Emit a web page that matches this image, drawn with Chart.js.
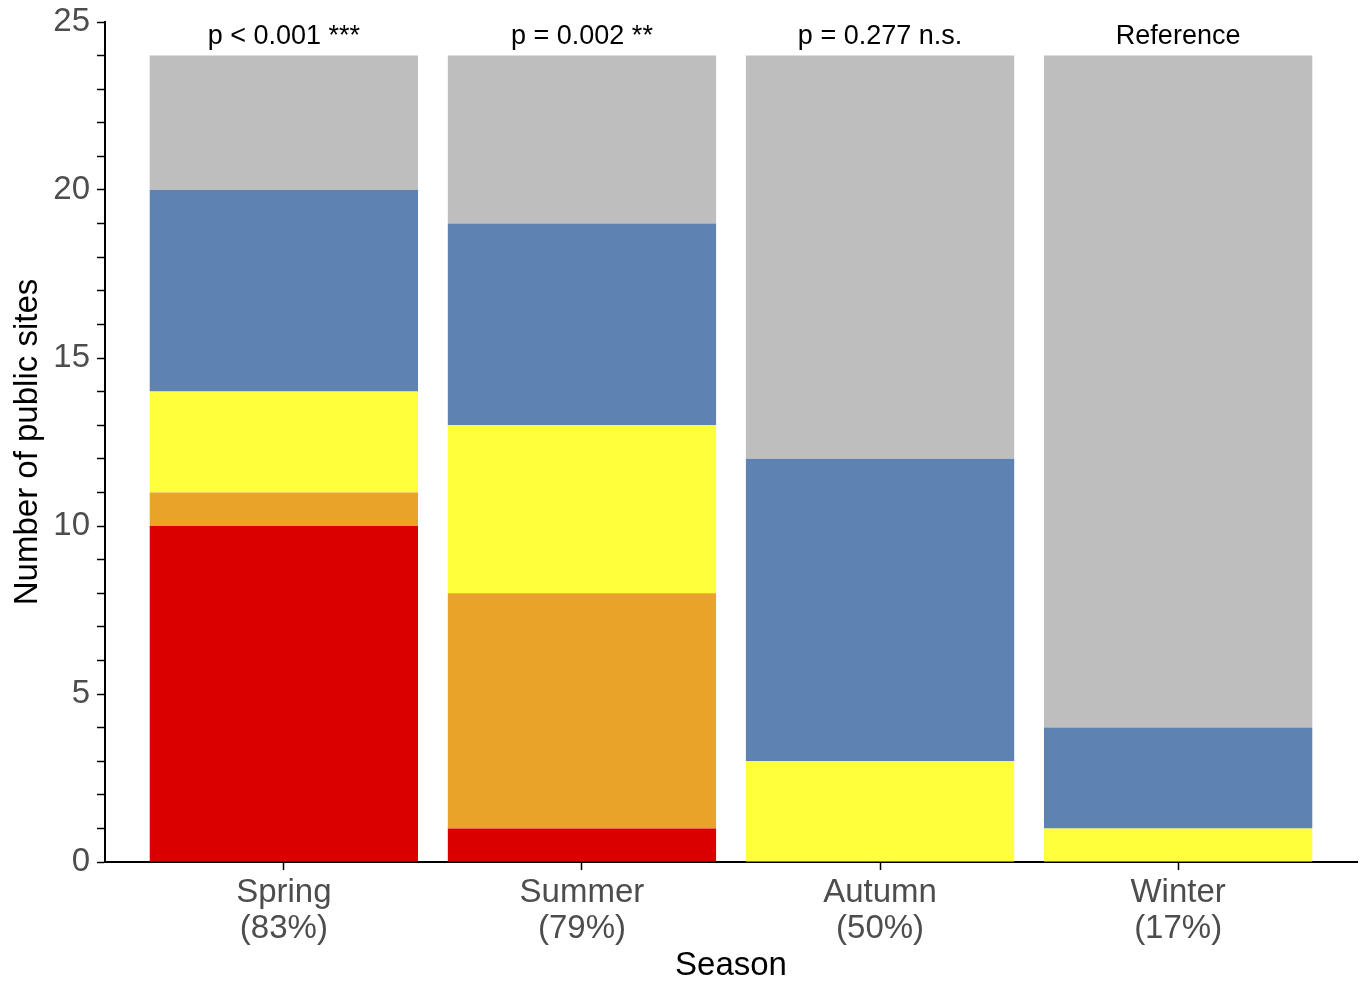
<!DOCTYPE html>
<html>
<head>
<meta charset="utf-8">
<script src="https://cdn.jsdelivr.net/npm/chart.js@4"></script>
<style>
  body { margin: 0; background: #fff; }
  #wrap { width: 1360px; height: 981px; }
</style>
</head>
<body>
<div id="wrap"><canvas id="seasonChart" width="1360" height="981"></canvas></div>
<script>
const seasons = ['Spring', 'Summer', 'Autumn', 'Winter']
const seasonShares = ['(83%)', '(79%)', '(50%)', '(17%)']
const pLabels = ['p < 0.001 ***', 'p = 0.002 **', 'p = 0.277 n.s.', 'Reference']

// stacked from the bottom up
const redValues = [10, 1, 0, 0]
const orangeValues = [1, 7, 0, 0]
const yellowValues = [3, 5, 3, 1]
const blueValues = [6, 6, 9, 3]
const greyValues = [4, 5, 12, 20]

const yTicks = [0, 5, 10, 15, 20, 25]

const FONT = 'Liberation Sans, Arial, Helvetica, sans-serif'

const toPoints = values => values.map((v, i) => ({ x: i, y: v }))

const series = [
    { label: 'red', values: redValues, color: '#db0000' },
    { label: 'orange', values: orangeValues, color: '#e8a328' },
    { label: 'yellow', values: yellowValues, color: '#ffff3b' },
    { label: 'blue', values: blueValues, color: '#5e82b1' },
    { label: 'grey', values: greyValues, color: '#bebebe' },
]

const pValuePlugin = {
    id: 'pValues',
    afterDatasetsDraw(chart) {
        const { ctx, scales } = chart
        ctx.save()
        ctx.font = '27px ' + FONT
        ctx.fillStyle = '#000'
        ctx.textAlign = 'center'
        ctx.textBaseline = 'middle'
        pLabels.forEach((text, i) => {
            const total = series.reduce((s, d) => s + d.values[i], 0)
            ctx.fillText(text, scales.x.getPixelForValue(i), scales.y.getPixelForValue(total) - 19)
        })
        ctx.restore()
    }
}

new Chart(document.getElementById('seasonChart'), {
    type: 'bar',
    data: {
        datasets: series.map(s => ({
            label: s.label,
            data: toPoints(s.values),
            backgroundColor: s.color,
            borderWidth: 0,
            barPercentage: 0.9,
            categoryPercentage: 1,
        }))
    },
    options: {
        responsive: false,
        animation: false,
        layout: { padding: { top: 0, right: 3, left: 0, bottom: 0 } },
        plugins: { legend: { display: false }, tooltip: { enabled: false } },
        scales: {
            x: {
                type: 'linear',
                stacked: true,
                offset: false,
                min: -0.6,
                max: 3.6,
                afterBuildTicks: axis => { axis.ticks = seasons.map((_, i) => ({ value: i })) },
                afterFit: axis => { axis.height = 119 },
                grid: { offset: false, drawOnChartArea: false, color: '#000', tickLength: 8, tickWidth: 1.5 },
                border: { color: '#000', width: 2 },
                ticks: {
                    autoSkip: false,
                    maxRotation: 0,
                    padding: 5,
                    color: '#4d4d4d',
                    font: { family: FONT, size: 33, lineHeight: 1.09 },
                    callback: v => [seasons[v], seasonShares[v]]
                },
                title: {
                    display: true,
                    text: 'Season',
                    color: '#000',
                    font: { family: FONT, size: 33 },
                    padding: { top: 0, bottom: -5 }
                }
            },
            y: {
                stacked: true,
                min: 0,
                max: 25,
                afterBuildTicks: axis => {
                    const ticks = []
                    for (let v = 0; v <= 25; v++) ticks.push({ value: v })
                    axis.ticks = ticks
                },
                afterFit: axis => {
                    axis.width = 105
                    axis.paddingTop = 22
                },
                grid: { drawOnChartArea: false, color: '#000', tickLength: 8, tickWidth: 1.5 },
                border: { color: '#000', width: 2 },
                ticks: {
                    autoSkip: false,
                    padding: 7,
                    color: '#4d4d4d',
                    font: { family: FONT, size: 33 },
                    callback: v => yTicks.includes(v) ? String(v) : ''
                },
                title: {
                    display: true,
                    text: 'Number of public sites',
                    color: '#000',
                    font: { family: FONT, size: 33 },
                    padding: { top: 8, bottom: 0 }
                }
            }
        }
    },
    plugins: [pValuePlugin]
})
</script>
</body>
</html>
